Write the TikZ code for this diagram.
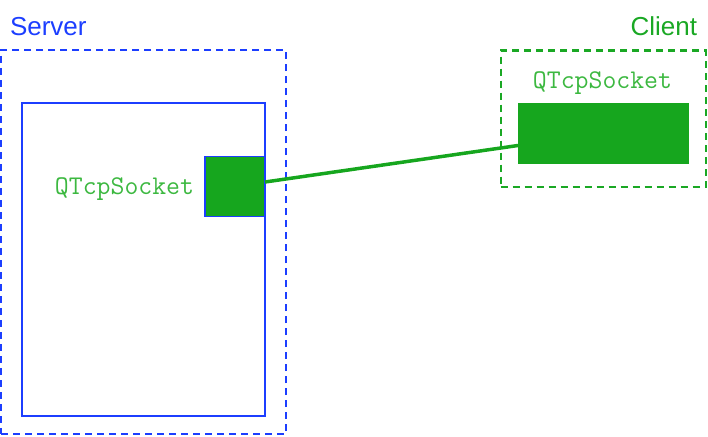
\documentclass[tikz,border=0pt]{standalone}
\usepackage{fontspec}
\setmainfont{Liberation Sans}
\definecolor{srvblue}{RGB}{28,62,255}
\definecolor{clgreen}{RGB}{26,168,36}
\definecolor{sockgreen}{RGB}{22,166,30}
\definecolor{codegreen}{RGB}{60,184,64}
\begin{document}
\begin{tikzpicture}[x=1pt,y=1pt]
\tikzstyle{every node}+=[inner sep=0pt, outer sep=0pt]
\tikzstyle{host}=[draw, dashed, line width=2pt, dash pattern=on 7pt off 5pt, minimum width=#1]
\tikzstyle{title}=[font=\fontsize{26}{30}\selectfont]
\tikzstyle{code}=[text=codegreen, font=\ttfamily\fontsize{27}{31}\selectfont]
\useasboundingbox (0,0) rectangle (708,-436);
\node [host=285pt, srvblue, minimum height=384pt] (server) at (143.5,-242) {};
\node [title, text=srvblue, anchor=base west] (servertitle) at (10,-35) {Server};
\node [draw=srvblue, line width=1.6pt, minimum width=243pt, minimum height=313pt] (app) at (143.5,-259.5) {};
\node [draw=srvblue, fill=sockgreen, line width=1.6pt, minimum width=60pt, minimum height=60pt] (ssock) at (235,-186.5) {};
\draw (124.5,-194) node [code, anchor=base] (ssocklabel) {QTcpSocket};
\node [host=205pt, clgreen, minimum height=136pt] (client) at (603,-118.5) {};
\node [title, text=clgreen, anchor=base east] (clienttitle) at (697,-35) {Client};
\node [fill=sockgreen, minimum width=171pt, minimum height=61pt] (csock) at (603.5,-133.5) {};
\draw (602.5,-88) node [code, anchor=base] (csocklabel) {QTcpSocket};
\draw [sockgreen, line width=3.5pt] ([yshift=4.5pt]ssock.east) -- ([yshift=-12pt]csock.west);
\end{tikzpicture}
\end{document}
